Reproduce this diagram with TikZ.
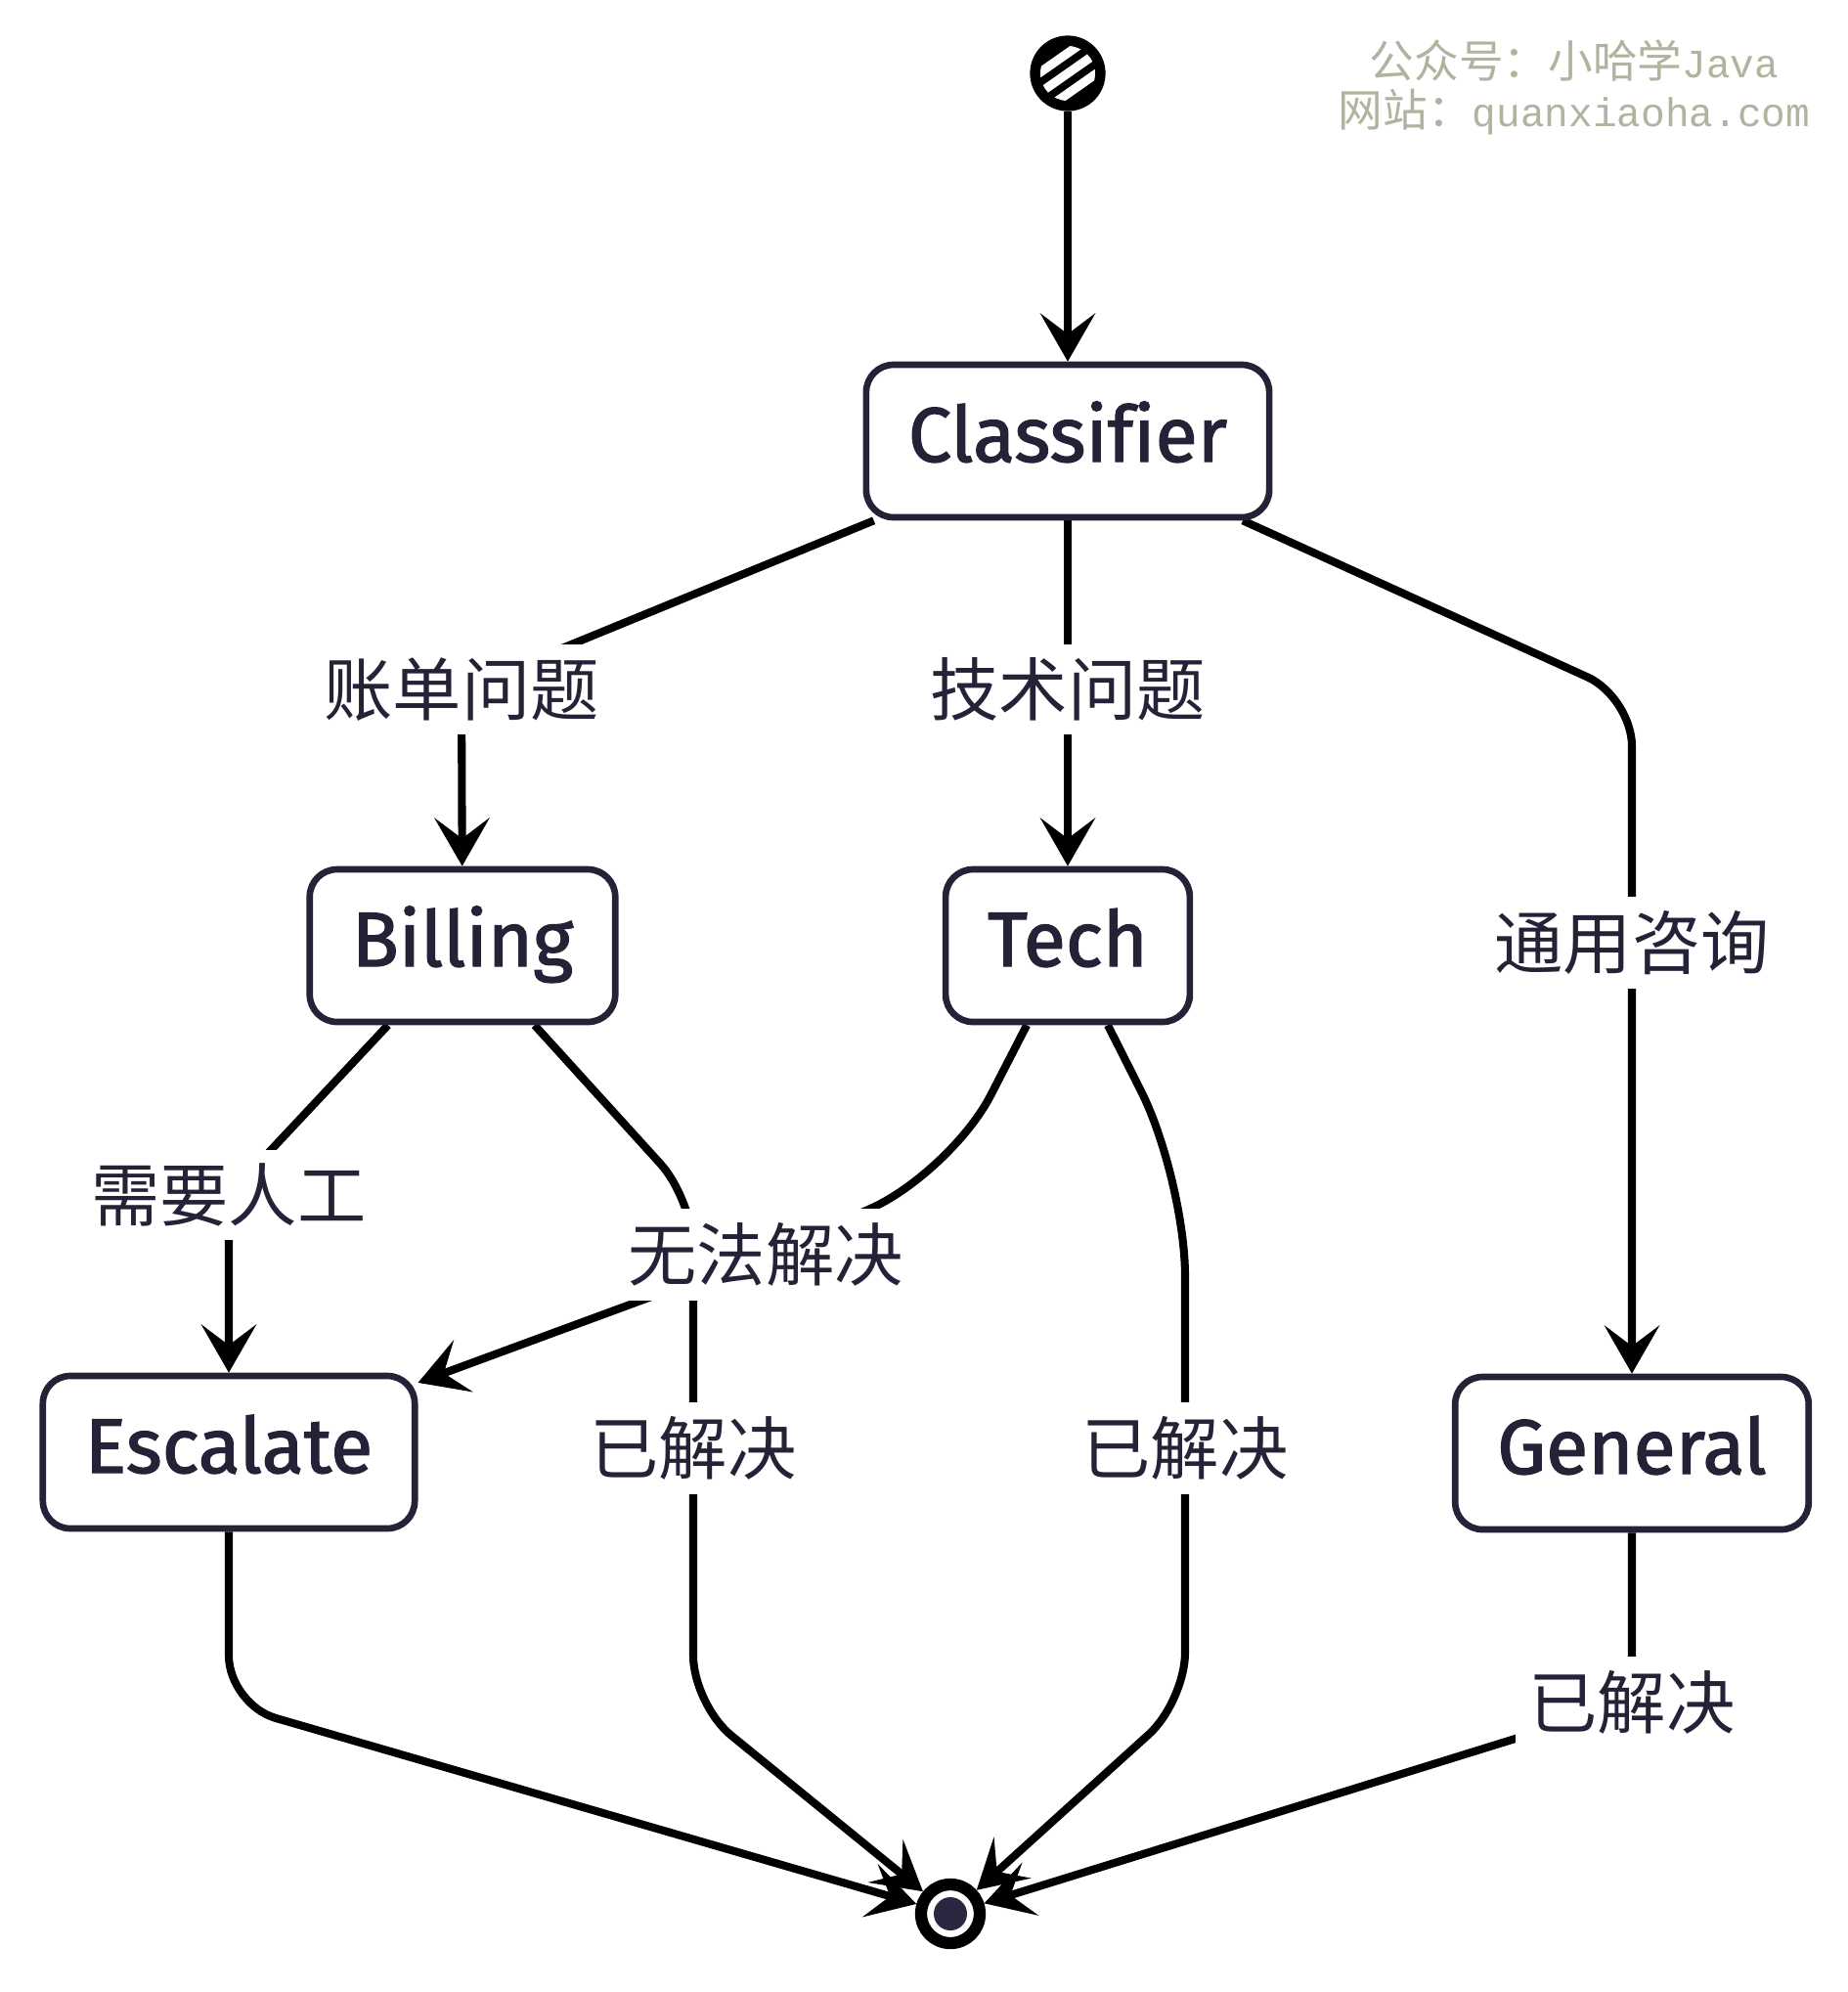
\documentclass[tikz,border=0pt]{standalone}
\usepackage{fontspec}
\setmainfont{Fira Sans}
\newfontfamily\boxfont[Ligatures=NoCommon, FakeBold=1.6]{Fira Sans}
\newfontfamily\cjk{Noto Sans CJK SC}
\newfontfamily\wmlatin[Scale=0.9]{Liberation Mono}
\usetikzlibrary{
    arrows.meta,
    positioning,
    backgrounds
}
\tikzset{
  state/.style = {draw=ink, line width=1.9pt, rounded corners=0.28cm, fill=white,
                  minimum height=1.56cm, inner xsep=0.43cm, text=ink,
                  text height=17pt, text depth=5pt,
                  font=\boxfont\fontsize{22.5}{26}\selectfont},
  lbl/.style   = {fill=white, inner sep=4pt, text=ink,
                  font=\cjk\fontsize{20}{24}\selectfont},
  arr/.style   = {-{Stealth[length=14pt, width=16pt, inset=6pt]},
                  line width=2.3pt, black},
  wm/.style    = {text=wmgrey, inner sep=0pt,
                  font=\cjk\fontsize{13}{15}\selectfont}
}
\definecolor{ink}{RGB}{36,34,54}
\definecolor{wmgrey}{RGB}{176,180,158}
\definecolor{dotnavy}{RGB}{42,40,64}

\begin{document}
\begin{tikzpicture}
  \useasboundingbox (0,0) rectangle (18.9,-20.37);
  \node[state] (cls) at (10.92,-4.51) {Classifier};
  \node[state] (bil) at (4.73,-9.67) {Billing};
  \node[state] (tec) at (10.92,-9.67) {Tech};
  \node[state] (esc) at (2.34,-14.85) {Escalate};
  \node[state] (gen) at (16.69,-14.86) {General};
  \node[circle, fill=black, draw=black, line width=1.5pt, minimum size=0.72cm,
        inner sep=0pt] (st) at (10.92,-0.75) {};
  \begin{scope}
    \clip (st.center) circle (0.28cm);
    \foreach \d in {-0.17,0,0.17}
      \draw[white, line width=2.6pt, shift={(st.center)}, rotate=35] (-0.5,\d) -- (0.5,\d);
  \end{scope}
  \node[circle, draw=black, fill=white, line width=3.5pt, minimum size=0.6cm,
        inner sep=0pt] (en) at (9.72,-19.57) {};
  \fill[dotnavy] (en.center) circle (0.17cm);

  \node[lbl] (lbA) at (4.72,-7.05) {账单问题};
  \node[lbl] (lbB) at (10.92,-7.05) {技术问题};
  \node[lbl] (lbC) at (16.69,-9.64) {通用咨询};
  \node[lbl] (lbD) at (2.34,-12.22) {需要人工};
  \node[lbl] (lbE) at (7.83,-12.83) {无法解决};
  \node[lbl] (lbF) at (7.09,-14.81) {已解决};
  \node[lbl] (lbG) at (12.12,-14.81) {已解决};
  \node[lbl] (lbH) at (16.69,-17.41) {已解决};

  \node[wm] (wm1) at (16.1,-0.62) {公众号：小哈学{\wmlatin Java}};
  \node[wm] (wm2) at (16.1,-1.15) {网站：{\wmlatin quanxiaoha.com}};

  \coordinate (kG) at (16.69,-7.13);
  \coordinate (kB1) at (7.09,-12.27);
  \coordinate (kB2) at (7.09,-17.43);
  \coordinate (kT0) at (9.72,-12.0);
  \coordinate (kT1) at (12.12,-12.05);
  \coordinate (kT2) at (12.12,-17.40);
  \coordinate (kE) at (2.34,-17.43);

  \begin{pgfonlayer}{background}
    \fill[white] (0,0) rectangle (18.9,-20.37);
    \draw[arr] (st) -- (cls);
    \draw[arr] (cls) -- (lbA.center) -- (bil);
    \draw[arr] (cls) -- (lbB.center) -- (tec);
    \draw[arr, rounded corners=0.5cm] (cls) -- (kG) -- (lbC.center) -- (gen);
    \draw[arr] (bil) -- (lbD.center) -- (esc);
    \draw[arr, rounded corners=0.5cm] (bil) -- (kB1) -- (lbF.center) -- (kB2) -- (en);
    \draw[arr, rounded corners=0.9cm] (tec) -- (kT0) -- (lbE.center) -- (esc);
    \draw[arr, rounded corners=1cm] (tec) -- (kT1) [rounded corners=0.5cm] -- (lbG.center) -- (kT2) -- (en);
    \draw[arr] (gen) -- (lbH.center) -- (en);
    \draw[arr, rounded corners=0.5cm] (esc) -- (kE) -- (en);
  \end{pgfonlayer}
\end{tikzpicture}
\end{document}
